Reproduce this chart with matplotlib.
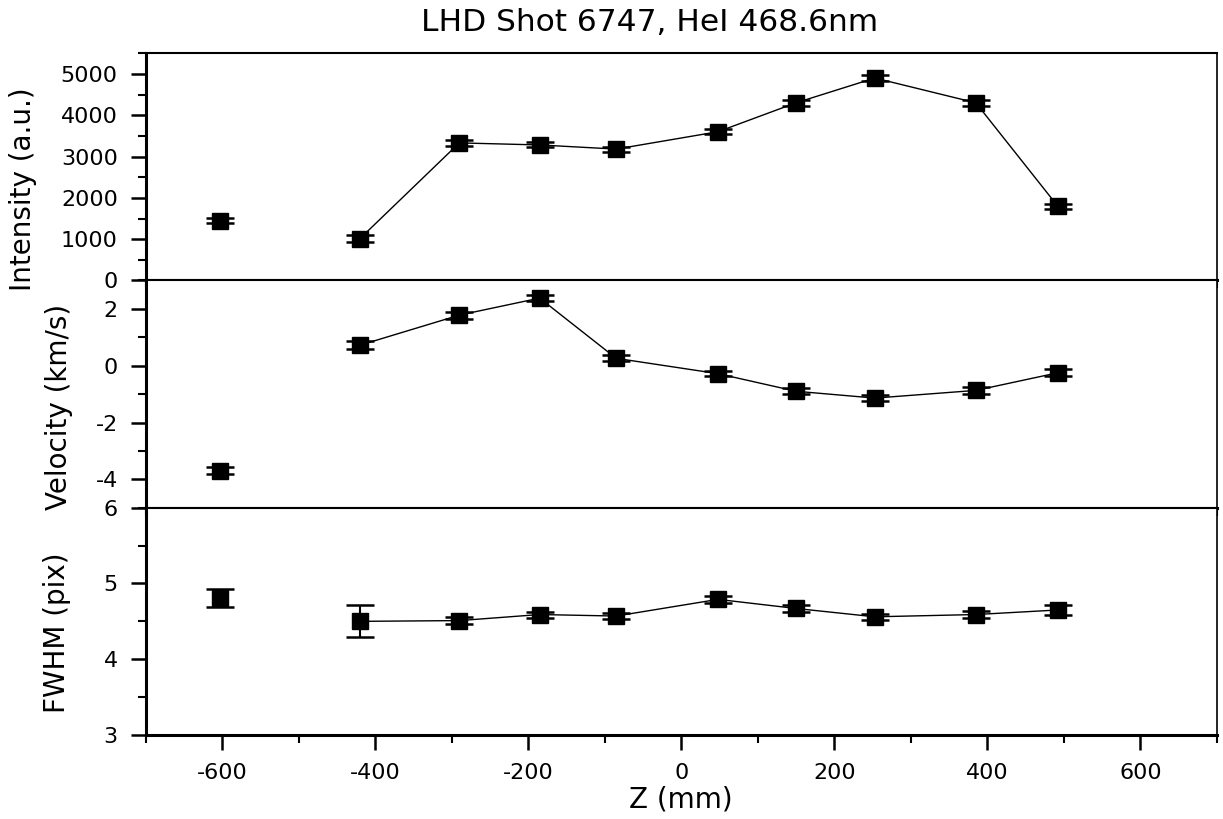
"""Intensity, velocity and line width of HeI 468.6nm along Z for LHD shot 6747."""
import matplotlib
matplotlib.use("Agg")
import matplotlib.pyplot as plt
from matplotlib.ticker import MultipleLocator

# Z positions of the chords (mm)
z_mm = [-603, -420, -290, -185, -85, 48, 150, 253, 385, 492]

intensity = [1450, 1010, 3330, 3280, 3180, 3600, 4300, 4900, 4300, 1800]
intensity_err = [70, 80, 80, 60, 60, 60, 70, 70, 70, 60]

velocity = [-3.7, 0.72, 1.78, 2.38, 0.26, -0.28, -0.90, -1.14, -0.87, -0.25]
velocity_err = [0.12, 0.14, 0.12, 0.10, 0.10, 0.10, 0.10, 0.10, 0.12, 0.12]

fwhm = [4.81, 4.50, 4.51, 4.59, 4.57, 4.79, 4.67, 4.56, 4.59, 4.65]
fwhm_err = [0.12, 0.21, 0.05, 0.04, 0.04, 0.05, 0.04, 0.04, 0.05, 0.06]

panels = [
    ("Intensity (a.u.)", intensity, intensity_err, (0, 5500), 1000, 500, (-0.101, 0.40)),
    ("Velocity (km/s)", velocity, velocity_err, (-5, 3), 2, 1, (-0.068, 0.445)),
    ("FWHM (pix)", fwhm, fwhm_err, (3, 6), 1, 0.5, (-0.070, 0.45)),
]

plt.rcParams["font.family"] = "DejaVu Sans"
plt.rcParams["axes.unicode_minus"] = False

fig = plt.figure(figsize=(12.23, 8.19), dpi=100)
gs = fig.add_gridspec(3, 1, left=0.119, right=0.995, top=0.935, bottom=0.1026, hspace=0)
axes = [fig.add_subplot(gs[i]) for i in range(3)]

for ax, (label, vals, errs, ylim, major, minor, lab_xy) in zip(axes, panels):
    # the first chord is not joined to the rest
    ax.plot(z_mm[1:], vals[1:], color="black", lw=1.0, zorder=2)
    ax.errorbar(z_mm, vals, yerr=errs, fmt="s", color="black", ms=12,
                ecolor="black", elinewidth=1.5, capsize=10, capthick=1.8, zorder=3)
    ax.set_xlim(-700, 700)
    ax.set_ylim(*ylim)
    ax.xaxis.set_major_locator(MultipleLocator(200))
    ax.xaxis.set_minor_locator(MultipleLocator(100))
    ax.yaxis.set_major_locator(MultipleLocator(major))
    ax.yaxis.set_minor_locator(MultipleLocator(minor))
    ax.tick_params(which="major", direction="out", length=11, width=1.8,
                   labelsize=16, pad=9)
    ax.tick_params(which="minor", direction="out", length=6, width=1.5)
    ax.tick_params(top=False, right=False, which="both")
    ax.set_ylabel(label, fontsize=20)
    ax.yaxis.set_label_coords(*lab_xy)
    ax.spines["left"].set_linewidth(2.2)
    ax.spines["bottom"].set_linewidth(2.2)
    ax.spines["top"].set_linewidth(1.5)
    ax.spines["right"].set_linewidth(1.2)

for ax in axes[:2]:
    ax.tick_params(labelbottom=False)

axes[2].set_xlabel("Z (mm)", fontsize=20, labelpad=2)
fig.text(0.531, 0.972, "LHD Shot 6747, HeI 468.6nm", fontsize=22.5,
         ha="center", va="center")

fig.savefig("out.png", dpi=100)
